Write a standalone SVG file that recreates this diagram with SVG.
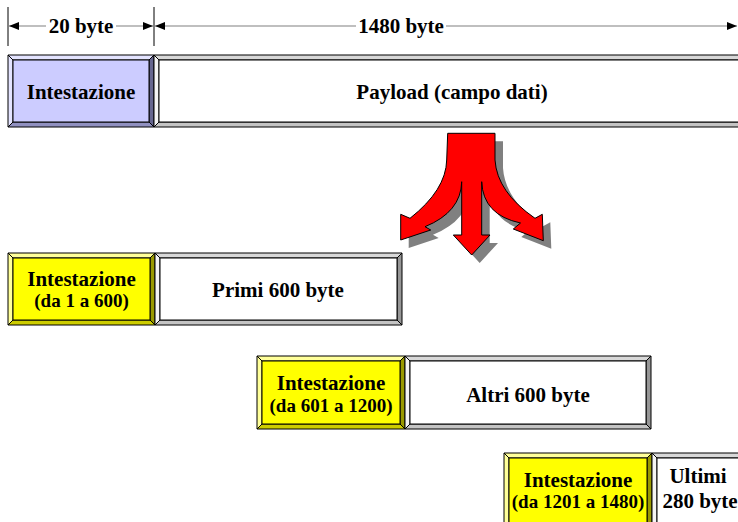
<svg xmlns="http://www.w3.org/2000/svg" width="738" height="522" viewBox="0 0 738 522">
<style>
.t{font-family:"Liberation Serif","Times New Roman",serif;font-weight:bold;fill:#000;text-anchor:middle}
.big{font-size:21px}
.sm{font-size:19px}
.bv{stroke:#000;stroke-width:1;stroke-linejoin:miter}
.bf{fill:#ccccff}.bt{fill:#e4e4ff}.bl{fill:#e4e4ff}.br{fill:#66668f}.bb{fill:#9090c0}
.wf{fill:#ffffff}.wt{fill:#d8d8d8}.wl{fill:#f4f4f4}.wr{fill:#969696}.wb{fill:#c4c4c4}
.yf{fill:#ffff00}.yt{fill:#ffff99}.yl{fill:#ffff99}.yr{fill:#999900}.yb{fill:#cccc00}
.dim{stroke:#808080;stroke-width:1.2;fill:none}
.vl{stroke:#000;stroke-width:1}
</style>
<defs>
<marker id="ah" viewBox="0 0 10 8" refX="10" refY="4" markerWidth="10" markerHeight="8" markerUnits="userSpaceOnUse" orient="auto-start-reverse">
<path d="M0,0 L10,4 L0,8 Z" fill="#000"/>
</marker>
<path id="arrowShape" d="M447.7,133.3 L495,133.3 L495,160 Q497,192 535,218.3 L542.3,214.3 L543.3,240.7 L513.3,229 L520.5,223 Q483,215 481.7,181.7 L481.7,235 L490,235 L471.7,255 L453.3,235 L461.7,235 L461.7,181.7 Q461,212 425,226.7 L430.7,230 L400.7,240 L400.7,214.3 L410,218.3 Q446,190 446.7,160 Z"/>
</defs>

<g id="dimensions">
<line class="vl" x1="8" y1="7" x2="8" y2="46"/>
<line class="vl" x1="154" y1="7" x2="154" y2="46"/>
<line class="dim" x1="9" y1="26" x2="46" y2="26" marker-start="url(#ah)"/>
<line class="dim" x1="116" y1="26" x2="153" y2="26" marker-end="url(#ah)"/>
<line class="dim" x1="155" y1="26" x2="356" y2="26" marker-start="url(#ah)"/>
<line class="dim" x1="446" y1="26" x2="737" y2="26" marker-end="url(#ah)"/>
<text class="t big" x="81" y="33">20 byte</text>
<text class="t big" x="401" y="33">1480 byte</text>
</g>

<g id="hdr-orig">
<polygon class="bv bt" points="8,55 154,55 149,60 13,60"/>
<polygon class="bv bl" points="8,55 13,60 13,122 8,127"/>
<polygon class="bv br" points="154,55 154,127 149,122 149,60"/>
<polygon class="bv bb" points="8,127 154,127 149,122 13,122"/>
<rect class="bv bf" x="13" y="60" width="136" height="62"/>
<text class="t big" x="81" y="99">Intestazione</text>
</g>

<g id="payload">
<polygon class="bv wt" points="154,55 752,55 747,60 159,60"/>
<polygon class="bv wl" points="154,55 159,60 159,122 154,127"/>
<polygon class="bv wr" points="752,55 752,127 747,122 747,60"/>
<polygon class="bv wb" points="154,127 752,127 747,122 159,122"/>
<rect class="bv wf" x="159" y="60" width="588" height="62"/>
<text class="t big" x="452" y="99">Payload (campo dati)</text>
</g>

<g id="split-arrow">
<use href="#arrowShape" transform="translate(8,8)" fill="#808080"/>
<use href="#arrowShape" fill="#ff0000" stroke="#000" stroke-width="1"/>
</g>

<g id="hdr1">
<polygon class="bv yt" points="8,253 155,253 150,258 13,258"/>
<polygon class="bv yl" points="8,253 13,258 13,320 8,325"/>
<polygon class="bv yr" points="155,253 155,325 150,320 150,258"/>
<polygon class="bv yb" points="8,325 155,325 150,320 13,320"/>
<rect class="bv yf" x="13" y="258" width="137" height="62"/>
<text class="t big" x="81.5" y="286">Intestazione</text>
<text class="t sm" x="81.5" y="307">(da 1 a 600)</text>
</g>

<g id="frag1">
<polygon class="bv wt" points="155,253 402,253 397,258 160,258"/>
<polygon class="bv wl" points="155,253 160,258 160,320 155,325"/>
<polygon class="bv wr" points="402,253 402,325 397,320 397,258"/>
<polygon class="bv wb" points="155,325 402,325 397,320 160,320"/>
<rect class="bv wf" x="160" y="258" width="237" height="62"/>
<text class="t big" x="278" y="297">Primi 600 byte</text>
</g>

<g id="hdr2">
<polygon class="bv yt" points="257,356 405,356 400,361 262,361"/>
<polygon class="bv yl" points="257,356 262,361 262,424 257,429"/>
<polygon class="bv yr" points="405,356 405,429 400,424 400,361"/>
<polygon class="bv yb" points="257,429 405,429 400,424 262,424"/>
<rect class="bv yf" x="262" y="361" width="138" height="63"/>
<text class="t big" x="331" y="390">Intestazione</text>
<text class="t sm" x="331" y="412">(da 601 a 1200)</text>
</g>

<g id="frag2">
<polygon class="bv wt" points="405,356 651,356 646,361 410,361"/>
<polygon class="bv wl" points="405,356 410,361 410,424 405,429"/>
<polygon class="bv wr" points="651,356 651,429 646,424 646,361"/>
<polygon class="bv wb" points="405,429 651,429 646,424 410,424"/>
<rect class="bv wf" x="410" y="361" width="236" height="63"/>
<text class="t big" x="528" y="402">Altri 600 byte</text>
</g>

<g id="hdr3">
<polygon class="bv yt" points="504,453 652,453 647,458 509,458"/>
<polygon class="bv yl" points="504,453 509,458 509,523 504,528"/>
<polygon class="bv yr" points="652,453 652,528 647,523 647,458"/>
<polygon class="bv yb" points="504,528 652,528 647,523 509,523"/>
<rect class="bv yf" x="509" y="458" width="138" height="65"/>
<text class="t big" x="578" y="487">Intestazione</text>
<text class="t sm" x="578" y="508">(da 1201 a 1480)</text>
</g>

<g id="frag3">
<polygon class="bv wt" points="652,453 752,453 747,458 657,458"/>
<polygon class="bv wl" points="652,453 657,458 657,523 652,528"/>
<polygon class="bv wr" points="752,453 752,528 747,523 747,458"/>
<polygon class="bv wb" points="652,528 752,528 747,523 657,523"/>
<rect class="bv wf" x="657" y="458" width="90" height="65"/>
<text class="t big" x="698" y="483">Ultimi</text>
<text class="t big" x="700" y="508">280 byte</text>
</g>
</svg>
